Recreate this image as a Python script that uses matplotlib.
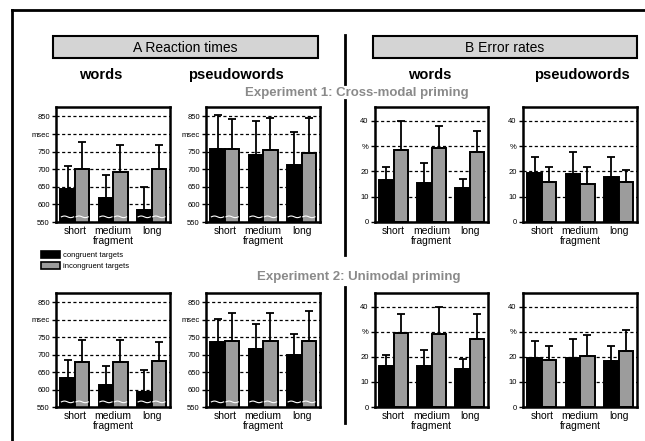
import numpy as np
import matplotlib
matplotlib.use("Agg")
import matplotlib.pyplot as plt
from matplotlib.patches import Rectangle, Patch
from matplotlib.lines import Line2D

plt.rcParams['font.family'] = ['Liberation Sans', 'DejaVu Sans']

# ---------------- data ----------------
categories = ["short", "medium\nfragment", "long"]
legend_labels = ["congruent targets", "incongruent targets"]

# Experiment 1: Cross-modal priming
rt_words_e1_cong = [644, 618, 585]
rt_words_e1_cong_err = [65, 66, 65]
rt_words_e1_incong = [701, 693, 701]
rt_words_e1_incong_err = [77, 75, 67]
rt_pseudo_e1_cong = [757, 741, 712]
rt_pseudo_e1_cong_err = [97, 95, 95]
rt_pseudo_e1_incong = [757, 754, 745]
rt_pseudo_e1_incong_err = [87, 93, 102]
er_words_e1_cong = [16.6, 15.3, 13.3]
er_words_e1_cong_err = [5.3, 7.9, 3.6]
er_words_e1_incong = [28.4, 29.4, 27.5]
er_words_e1_incong_err = [11.6, 8.4, 8.5]
er_pseudo_e1_cong = [19.3, 18.9, 18.0]
er_pseudo_e1_cong_err = [6.4, 8.8, 7.7]
er_pseudo_e1_incong = [16.0, 15.2, 15.7]
er_pseudo_e1_incong_err = [5.8, 6.6, 4.9]

# Experiment 2: Unimodal priming
rt_words_e2_cong = [634, 613, 594]
rt_words_e2_cong_err = [52, 55, 61]
rt_words_e2_incong = [679, 679, 681]
rt_words_e2_incong_err = [62, 62, 56]
rt_pseudo_e2_cong = [736, 715, 700]
rt_pseudo_e2_cong_err = [67, 73, 60]
rt_pseudo_e2_incong = [740, 740, 740]
rt_pseudo_e2_incong_err = [81, 81, 86]
er_words_e2_cong = [16.3, 16.5, 15.2]
er_words_e2_cong_err = [4.6, 6.1, 4.1]
er_words_e2_incong = [29.5, 29.3, 27.0]
er_words_e2_incong_err = [7.7, 10.5, 10.1]
er_pseudo_e2_cong = [19.6, 19.6, 18.4]
er_pseudo_e2_cong_err = [6.6, 7.6, 5.9]
er_pseudo_e2_incong = [18.7, 20.4, 22.4]
er_pseudo_e2_incong_err = [5.6, 8.2, 8.4]

rt_ticks = [550, 600, 650, 700, 750, 800, 850]
rt_ticklabels = ["550", "600", "650", "700", "750", "msec", "850"]
er_ticks = [0, 10, 20, 30, 40]
er_ticklabels = ["0", "10", "20", "%", "40"]

# ---------------- figure ----------------
W, H = 645, 441
fig = plt.figure(figsize=(W / 100, H / 100), dpi=100)


def fbox(x0, x1, y0, y1):
    return [x0 / W, 1 - y1 / H, (x1 - x0) / W, (y1 - y0) / H]


BLACK = "#000000"
GRAY = "#9c9c9c"
bw = 0.38


def panel(rect, cong, cong_err, incong, incong_err, kind):
    ax = fig.add_axes(rect)
    x = np.arange(len(categories))
    b1 = ax.bar(x - bw / 2, cong, bw, color=BLACK, edgecolor="black", lw=1.4, zorder=2)
    b2 = ax.bar(x + bw / 2, incong, bw, color=GRAY, edgecolor="black", lw=1.4, zorder=2)
    z = np.zeros(len(x))
    ax.errorbar(x - bw / 2, cong, yerr=[z, cong_err], fmt="none", ecolor="black",
                elinewidth=1.3, capsize=3, capthick=1.3, zorder=3)
    ax.errorbar(x + bw / 2, incong, yerr=[z, incong_err], fmt="none", ecolor="black",
                elinewidth=1.3, capsize=3, capthick=1.3, zorder=3)
    if kind == "rt":
        ax.set_ylim(550, 877)
        ax.set_yticks(rt_ticks)
        ax.set_yticklabels(rt_ticklabels)
        # white break squiggles near bar bottoms
        for p in list(b1) + list(b2):
            xs = np.linspace(p.get_x() + 0.03, p.get_x() + p.get_width() - 0.03, 30)
            t = np.linspace(0, 2 * np.pi, 30)
            ys = 0.045 + 0.007 * np.sin(t)
            ax.plot(xs, ys, color="white", lw=0.8, zorder=2.5,
                    transform=ax.get_xaxis_transform())
    else:
        ax.set_ylim(0, 45.5)
        ax.set_yticks(er_ticks)
        ax.set_yticklabels(er_ticklabels)
    ax.set_xlim(-0.49, 2.48)
    ax.set_xticks(x)
    ax.set_xticklabels(categories, fontsize=7.5, linespacing=0.95)
    ax.tick_params(axis="x", length=0, pad=3)
    ax.tick_params(axis="y", length=3, width=1, labelsize=5.5, pad=1.5, direction="out")
    ax.set_axisbelow(True)
    ax.yaxis.grid(True, linestyle=(0, (2.5, 2)), color="black", lw=0.9)
    for s in ax.spines.values():
        s.set_linewidth(1.8)
    return ax


cols = [(56, 170), (206, 320), (375, 488), (523, 637)]
rows = [(107, 222), (293, 407)]

e1 = [
    (rt_words_e1_cong, rt_words_e1_cong_err, rt_words_e1_incong, rt_words_e1_incong_err, "rt"),
    (rt_pseudo_e1_cong, rt_pseudo_e1_cong_err, rt_pseudo_e1_incong, rt_pseudo_e1_incong_err, "rt"),
    (er_words_e1_cong, er_words_e1_cong_err, er_words_e1_incong, er_words_e1_incong_err, "er"),
    (er_pseudo_e1_cong, er_pseudo_e1_cong_err, er_pseudo_e1_incong, er_pseudo_e1_incong_err, "er"),
]
e2 = [
    (rt_words_e2_cong, rt_words_e2_cong_err, rt_words_e2_incong, rt_words_e2_incong_err, "rt"),
    (rt_pseudo_e2_cong, rt_pseudo_e2_cong_err, rt_pseudo_e2_incong, rt_pseudo_e2_incong_err, "rt"),
    (er_words_e2_cong, er_words_e2_cong_err, er_words_e2_incong, er_words_e2_incong_err, "er"),
    (er_pseudo_e2_cong, er_pseudo_e2_cong_err, er_pseudo_e2_incong, er_pseudo_e2_incong_err, "er"),
]
for (r0, r1), exp in zip(rows, [e1, e2]):
    for (c0, c1), args in zip(cols, exp):
        panel(fbox(c0, c1, r0, r1), *args)

# ---------------- decorations ----------------
tf = fig.transFigure


def fx(px):
    return px / W


def fy(py):
    return 1 - py / H


# outer frame
fig.add_artist(Line2D([fx(12), fx(12)], [0, fy(10)], transform=tf, color="black", lw=2))
fig.add_artist(Line2D([fx(12), 1], [fy(10), fy(10)], transform=tf, color="black", lw=2))

# divider
for y0, y1 in [(35, 84), (100, 255), (287, 423)]:
    fig.add_artist(Line2D([fx(345), fx(345)], [fy(y0), fy(y1)], transform=tf, color="black", lw=2))

# header boxes
for (x0, x1), label in [((53, 318), "A Reaction times"), ((373, 637), "B Error rates")]:
    fig.add_artist(Rectangle((fx(x0), fy(58)), (x1 - x0) / W, 22 / H, transform=tf,
                             facecolor="#d4d4d4", edgecolor="black", lw=1.5))
    fig.text(fx((x0 + x1) / 2), fy(47.5), label, ha="center", va="center", fontsize=10)

for xc, label in [(101, "words"), (236, "pseudowords"), (430, "words"), (582, "pseudowords")]:
    fig.text(fx(xc), fy(75), label, ha="center", va="center", fontsize=10.5, fontweight="bold")

fig.text(fx(357), fy(93), "Experiment 1: Cross-modal priming", ha="center", va="center",
         fontsize=9.5, fontweight="bold", color="#8a8a8a")
fig.text(fx(359), fy(277), "Experiment 2: Unimodal priming", ha="center", va="center",
         fontsize=9.5, fontweight="bold", color="#8a8a8a")

# legend
handles = [Patch(facecolor=BLACK, edgecolor="black", lw=1.2),
           Patch(facecolor=GRAY, edgecolor="black", lw=1.2)]
fig.legend(handles, legend_labels, loc="upper left", bbox_to_anchor=(fx(41), fy(251)),
           bbox_transform=tf, frameon=False, fontsize=5.5, handlelength=2.5,
           handleheight=0.95, handletextpad=0.35, labelspacing=0.45, borderpad=0,
           borderaxespad=0)

fig.savefig("out.png", dpi=100)
